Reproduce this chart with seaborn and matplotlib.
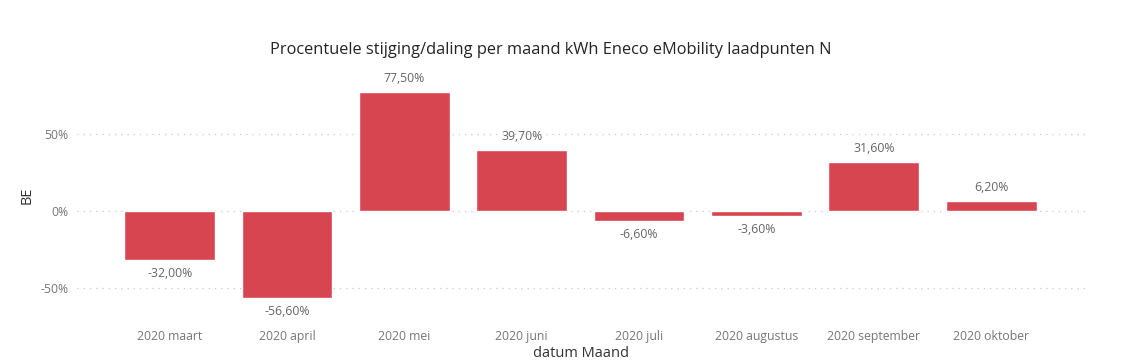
import matplotlib.pyplot as plt
import pandas as pd
import seaborn as sns

MONTHS = [
    "2020 maart", "2020 april", "2020 mei", "2020 juni",
    "2020 juli", "2020 augustus", "2020 september", "2020 oktober",
]
CHANGE_PCT = [-32.0, -56.6, 77.5, 39.7, -6.6, -3.6, 31.6, 6.2]

BAR_COLOR = "#D64550"
TEXT_GRAY = "#666666"

df = pd.DataFrame({"maand": MONTHS, "pct": CHANGE_PCT})

sns.set_theme(style="white")
plt.rcParams["font.family"] = ["Open Sans", "DejaVu Sans"]

fig = plt.figure(figsize=(11.3, 3.63), dpi=100)
ax = fig.add_axes([0.0681, 0.1433, 0.892, 0.6364])

sns.barplot(data=df, x="maand", y="pct", color=BAR_COLOR, saturation=1,
            width=0.775, ax=ax)

ax.set_xlim(-0.79, 7.80)
ax.set_ylim(-65, 85)
ax.set_yticks([-50, 0, 50])
ax.set_yticklabels(["-50%", "0%", "50%"])
ax.grid(axis="y", linestyle=(0, (1, 4)), color="#c8c8c8", linewidth=0.9)
ax.set_axisbelow(True)
for s in ax.spines.values():
    s.set_visible(False)
ax.tick_params(axis="both", length=0, colors="#777777", labelsize=8.8)
ax.tick_params(axis="x", pad=14)
ax.tick_params(axis="y", pad=6)

for i, v in enumerate(CHANGE_PCT):
    label = f"{v:.2f}%".replace(".", ",")
    if v >= 0:
        ax.annotate(label, (i, v), xytext=(0, 5), textcoords="offset points",
                    ha="center", va="bottom", fontsize=8.8, color=TEXT_GRAY)
    else:
        ax.annotate(label, (i, v), xytext=(0, -5), textcoords="offset points",
                    ha="center", va="top", fontsize=8.8, color=TEXT_GRAY)

ax.set_xlabel("datum Maand", fontsize=10.5, color="#333333", labelpad=2)
ax.set_ylabel("BE", fontsize=10.5, color="#333333", labelpad=4)
fig.suptitle("Procentuele stijging/daling per maand kWh Eneco eMobility laadpunten N",
             x=0.487, y=0.885, fontsize=11.8, color="#252423")

fig.savefig("out.png", dpi=100)
